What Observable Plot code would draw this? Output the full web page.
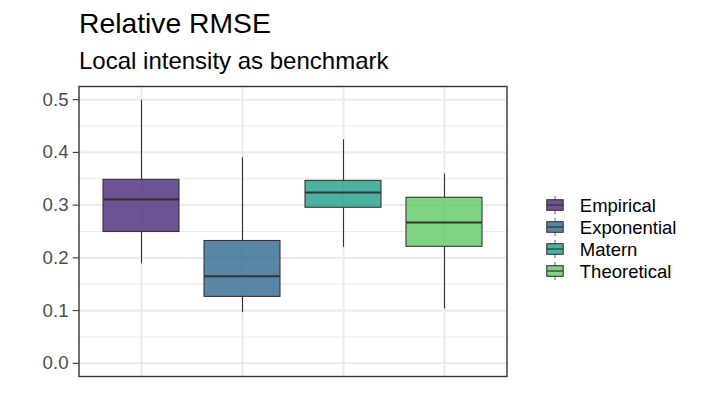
<!DOCTYPE html>
<html>
<head>
<meta charset="utf-8">
<script src="https://cdn.jsdelivr.net/npm/d3@7"></script>
<script src="https://cdn.jsdelivr.net/npm/@observablehq/plot@0.6"></script>
<style>
  html, body { margin: 0; padding: 0; background: #ffffff; }
  #wrap { position: relative; width: 703px; height: 395px; overflow: hidden; font-family: "Liberation Sans", Arial, sans-serif; }
  #title { position: absolute; left: 79px; top: 9.2px; font-size: 28.3px; line-height: 1; color: #000; white-space: nowrap; }
  #subtitle { position: absolute; left: 79px; top: 48.7px; font-size: 24px; line-height: 1; color: #000; white-space: nowrap; }
  #main { position: absolute; left: 0; top: 0; }
  #legend { position: absolute; left: 540px; top: 188px; }
  g[aria-label="y-axis tick label"] { fill: #4d4d4d; }
</style>
</head>
<body>
<div id="wrap">
  <div id="main"></div>
  <div id="legend"></div>
  <div id="title">Relative RMSE</div>
  <div id="subtitle">Local intensity as benchmark</div>
</div>
<script>
// ---- data ----
const categories = ["Empirical", "Exponential", "Matern", "Theoretical"];
const whiskerLow  = [0.189, 0.096, 0.220, 0.103];
const q1          = [0.249, 0.126, 0.295, 0.221];
const median      = [0.311, 0.165, 0.324, 0.267];
const q3          = [0.348, 0.232, 0.346, 0.314];
const whiskerHigh = [0.499, 0.390, 0.424, 0.359];
const colors = ["#482878", "#31688E", "#1F9E89", "#5EC962"];
const yMajor = [0, 0.1, 0.2, 0.3, 0.4, 0.5];
const yMinor = [0.05, 0.15, 0.25, 0.35, 0.45];

const rows = categories.map((c, i) => ({
  cat: c, lo: whiskerLow[i], q1: q1[i], med: median[i], q3: q3[i], hi: whiskerHigh[i]
}));

const font = "'Liberation Sans', Arial, sans-serif";
const grid = "#ebebeb";
const ink = "#333333";

const main = Plot.plot({
  width: 703,
  height: 395,
  marginLeft: 78.5,
  marginRight: 196.5,
  marginTop: 86,
  marginBottom: 19,
  style: { fontFamily: font, background: "transparent", overflow: "visible" },
  x: { type: "band", domain: categories, paddingInner: 0.25, paddingOuter: 0.225, align: 0.5, axis: null },
  y: { domain: [-0.025, 0.525], label: null },
  color: { domain: categories, range: colors },
  marks: [
    Plot.ruleY(yMinor, { stroke: grid, strokeWidth: 1.07 }),
    Plot.ruleY(yMajor, { stroke: grid, strokeWidth: 2.1 }),
    Plot.ruleX(categories, { x: d => d, stroke: grid, strokeWidth: 2.1 }),
    Plot.ruleX(rows, { x: "cat", y1: "lo", y2: "q1", stroke: ink, strokeWidth: 1.07 }),
    Plot.ruleX(rows, { x: "cat", y1: "q3", y2: "hi", stroke: ink, strokeWidth: 1.07 }),
    Plot.barY(rows, { x: "cat", y1: "q1", y2: "q3", fill: "cat", fillOpacity: 0.8, stroke: ink, strokeWidth: 1.07 }),
    Plot.tickY(rows, { x: "cat", y: "med", stroke: ink, strokeWidth: 2.1 }),
    Plot.frame({ stroke: ink, strokeWidth: 1.4 }),
    Plot.axisY({ ticks: yMajor, tickFormat: d3.format(".1f"), tickSize: 5.8, tickPadding: 4.6,
                 fontSize: 18.7, stroke: ink, strokeWidth: 1.07, label: null })
  ]
});
document.getElementById("main").appendChild(main);

const legend = Plot.plot({
  width: 160,
  height: 110,
  margin: 0,
  style: { fontFamily: font, background: "transparent", overflow: "visible" },
  x: { type: "band", domain: ["key"], range: [3.6, 25.8], padding: 0, axis: null },
  y: { type: "band", domain: categories, range: [4, 95.2], padding: 0, axis: null },
  color: { domain: categories, range: colors },
  marks: [
    Plot.cell(categories, { x: () => "key", y: d => d, fill: ink, insetTop: 2, insetBottom: 2, insetLeft: 10.6, insetRight: 10.6 }),
    Plot.cell(categories, { x: () => "key", y: d => d, fill: "#ffffff", insetTop: 5.7, insetBottom: 5.7, insetLeft: 2.8, insetRight: 2.8 }),
    Plot.cell(categories, { x: () => "key", y: d => d, fill: d => d, fillOpacity: 0.8, stroke: ink, strokeWidth: 1.07,
                            insetTop: 5.7, insetBottom: 5.7, insetLeft: 2.8, insetRight: 2.8 }),
    Plot.cell(categories, { x: () => "key", y: d => d, fill: ink, insetTop: 10.4, insetBottom: 10.4, insetLeft: 2.8, insetRight: 2.8 }),
    Plot.text(categories, { x: () => "key", y: d => d, text: d => d, textAnchor: "start", dx: 24.3, dy: 1,
                            fontSize: 18.5, fill: "#000000" })
  ]
});
document.getElementById("legend").appendChild(legend);
</script>
</body>
</html>
